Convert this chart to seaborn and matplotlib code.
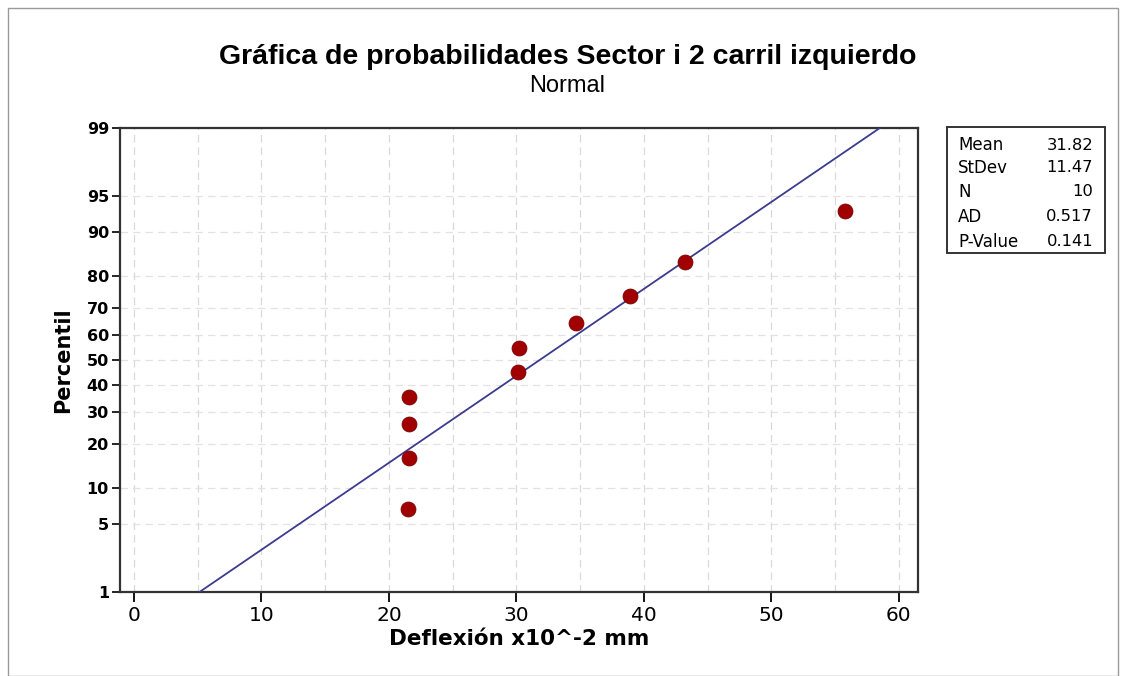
from statistics import NormalDist

import matplotlib

matplotlib.use("Agg")
import numpy as np
import pandas as pd
import seaborn as sns
from matplotlib import pyplot as plt
from matplotlib.patches import Rectangle
from matplotlib.ticker import FixedLocator, MultipleLocator

# data
deflexion = [21.5, 21.6, 21.6, 21.6, 30.1, 30.2, 34.7, 38.9, 43.2, 55.8]
percentil = [6.7, 16.3, 26.0, 35.6, 45.2, 54.8, 64.4, 74.0, 83.7, 93.3]
mean, stdev = 31.82, 11.47
stat_labels = ["Mean", "StDev", "N", "AD", "P-Value"]
stat_values = ["31.82", "11.47", "10", "0.517", "0.141"]
y_ticks = [1, 5, 10, 20, 30, 40, 50, 60, 70, 80, 90, 95, 99]
x_ticks = [0, 10, 20, 30, 40, 50, 60]

_nd = NormalDist()


def _probit(p):
    p = np.clip(np.asarray(p, dtype=float), 1e-6, 100 - 1e-6) / 100.0
    return np.vectorize(_nd.inv_cdf, otypes=[float])(p) if p.size else p


def _inv_probit(z):
    z = np.asarray(z, dtype=float)
    return np.vectorize(_nd.cdf, otypes=[float])(z) * 100.0 if z.size else z


# fitted normal line between the 1st and 99th percentiles
fit_pct = [1, 99]
fit_x = [mean + stdev * _nd.inv_cdf(p / 100) for p in fit_pct]

points = pd.DataFrame({"x": deflexion, "p": percentil})
fit = pd.DataFrame({"x": fit_x, "p": fit_pct})

sns.set_style("white")
plt.rcParams["font.family"] = ["Liberation Sans", "DejaVu Sans"]
plt.rcParams["text.color"] = "black"
plt.rcParams["axes.labelcolor"] = "black"

W, H = 1124, 676
fig = plt.figure(figsize=(W / 100, H / 100), dpi=100)
ax = fig.add_axes([120 / W, 1 - 592 / H, (918 - 120) / W, (592 - 128) / H])
ax.set_yscale("function", functions=(_probit, _inv_probit))

sns.lineplot(data=fit, x="x", y="p", color="#3b3b8f", lw=1.3, ax=ax, zorder=3)
sns.scatterplot(data=points, x="x", y="p", color="#a00000", edgecolor="#7a0000",
                linewidth=0.6, s=115, ax=ax, zorder=4)

ax.set_xlim(-1.1, 61.5)
ax.set_ylim(1, 99)
ax.yaxis.set_major_locator(FixedLocator(y_ticks))
ax.yaxis.set_minor_locator(FixedLocator([]))
ax.set_yticklabels([str(t) for t in y_ticks], family="DejaVu Sans", fontweight="bold")
ax.xaxis.set_major_locator(FixedLocator(x_ticks))
ax.xaxis.set_minor_locator(MultipleLocator(5))
ax.set_xticklabels([str(t) for t in x_ticks], family="DejaVu Sans")

ax.grid(True, axis="x", which="both", color="#d9d9d9", lw=0.9, ls=(0, (6, 4)))
ax.grid(True, axis="y", which="major", color="#e2e2e2", lw=0.9, ls=(0, (6, 4)))
ax.set_axisbelow(True)

ax.tick_params(axis="x", which="major", direction="out", length=7, width=1.3,
               labelsize=14.5, pad=3, colors="black")
ax.tick_params(axis="x", which="minor", length=0)
ax.tick_params(axis="y", which="major", direction="out", length=6, width=1.2,
               labelsize=11.5, pad=2, colors="black")
ax.tick_params(left=True, bottom=True)
for sp in ax.spines.values():
    sp.set_color("#333333")
    sp.set_linewidth(1.6)

ax.set_xlabel("Deflexión x10^-2 mm", fontsize=15.5, fontweight="bold",
              family="DejaVu Sans", labelpad=3)
ax.set_ylabel("Percentil", fontsize=15, fontweight="bold",
              family="DejaVu Sans", labelpad=10)

fig.text(568 / W, 1 - 57 / H, "Gráfica de probabilidades Sector i 2 carril izquierdo",
         ha="center", va="center", fontsize=20.5, fontweight="bold")
fig.text(567 / W, 1 - 86 / H, "Normal", ha="center", va="center", fontsize=17)

# statistics box
fig.patches.append(Rectangle((947 / W, 1 - 253 / H), (1105 - 947) / W, (253 - 127) / H,
                             transform=fig.transFigure, fill=False,
                             edgecolor="#333333", lw=1.4))
row_y = [145, 168, 192, 217, 242]
for lab, val, yy in zip(stat_labels, stat_values, row_y):
    fig.text(958 / W, 1 - yy / H, lab, ha="left", va="center", fontsize=12,
             family="DejaVu Sans")
    fig.text(1093 / W, 1 - yy / H, val, ha="right", va="center", fontsize=11.8,
             family="DejaVu Sans")

# thin outer frame of the scanned figure
fig.patches.append(Rectangle((8 / W, 0), (1118 - 8) / W, 1 - 8 / H,
                             transform=fig.transFigure, fill=False,
                             edgecolor="#9a9a9a", lw=1.0))

fig.savefig("out.png", dpi=100)
